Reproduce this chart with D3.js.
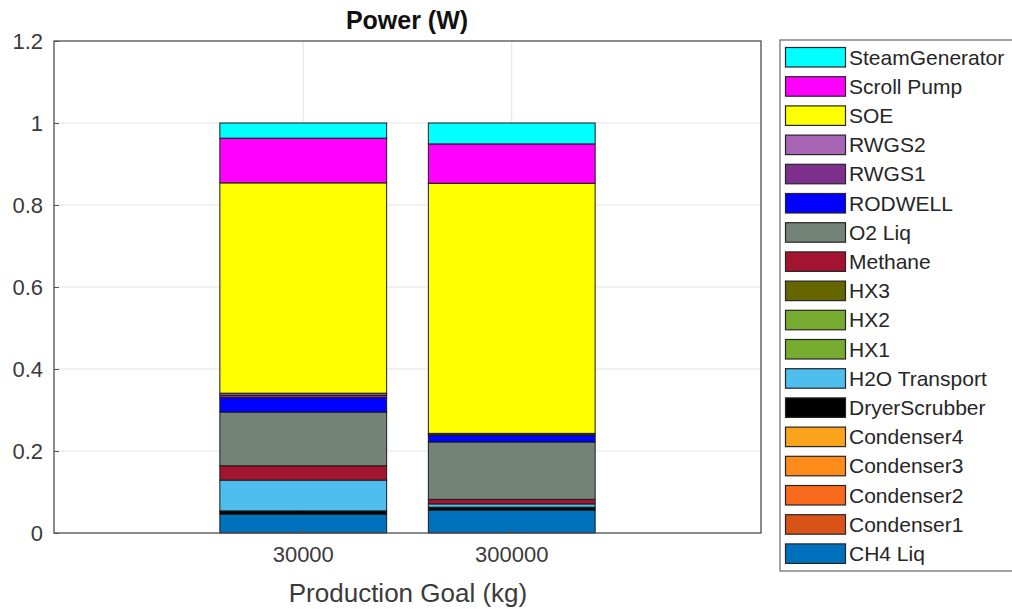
<!DOCTYPE html>
<html>
<head>
<meta charset="utf-8">
<script src="https://cdn.jsdelivr.net/npm/d3@7"></script>
<style>
  html, body { margin: 0; padding: 0; background: #fff; }
  svg { display: block; font-family: "Liberation Sans", Arial, Helvetica, sans-serif; }
</style>
</head>
<body>
<svg id="chart" width="1012" height="609"></svg>
<script>
// Production goals on the x axis
const goals = ["30000", "300000"];

// Stack components, bottom to top
const components = [
  "CH4 Liq", "Condenser1", "Condenser2", "Condenser3", "Condenser4",
  "DryerScrubber", "H2O Transport", "HX1", "HX2", "HX3",
  "Methane", "O2 Liq", "RODWELL", "RWGS1", "RWGS2",
  "SOE", "Scroll Pump", "SteamGenerator"
];

// Normalised power share of each component, one value per production goal
const ch4Liq        = [0.046, 0.056];
const condenser1    = [0.000, 0.000];
const condenser2    = [0.000, 0.000];
const condenser3    = [0.000, 0.000];
const condenser4    = [0.000, 0.000];
const dryerScrubber = [0.008, 0.007];
const h2oTransport  = [0.075, 0.008];
const hx1           = [0.000, 0.000];
const hx2           = [0.000, 0.000];
const hx3           = [0.000, 0.000];
const methane       = [0.035, 0.011];
const o2Liq         = [0.131, 0.140];
const rodwell       = [0.035, 0.016];
const rwgs1         = [0.006, 0.003];
const rwgs2         = [0.005, 0.002];
const soe           = [0.513, 0.610];
const scrollPump    = [0.109, 0.096];
const steamGen      = [0.037, 0.051];

const seriesValues = [
  ch4Liq, condenser1, condenser2, condenser3, condenser4,
  dryerScrubber, h2oTransport, hx1, hx2, hx3,
  methane, o2Liq, rodwell, rwgs1, rwgs2,
  soe, scrollPump, steamGen
];

const componentColors = [
  "#0072BD", "#D95319", "#FA6A1C", "#FF8C1A", "#F9A41B",
  "#000000", "#4DBEEE", "#77AC30", "#77AC30", "#666600",
  "#A2142F", "#738378", "#0000FF", "#7E2F8E", "#A865B5",
  "#FFFF00", "#FF00FF", "#00FFFF"
];

const yTicks = [0, 0.2, 0.4, 0.6, 0.8, 1, 1.2];

// Table for d3.stack: one row per production goal
const rows = goals.map((g, i) => {
  const r = { goal: g };
  components.forEach((c, j) => { r[c] = seriesValues[j][i]; });
  return r;
});

const svg = d3.select("#chart");
const plot = { left: 54, right: 761, top: 41, bottom: 533 };
const fontFamily = "'Liberation Sans', Arial, sans-serif";

const x = d3.scaleBand()
  .domain(goals)
  .range([plot.left, plot.right])
  .paddingInner(0.2)
  .paddingOuter(0.7955);

const y = d3.scaleLinear()
  .domain([0, 1.2])
  .range([plot.bottom, plot.top]);

const color = d3.scaleOrdinal().domain(components).range(componentColors);

// Grid lines
const grid = svg.append("g");
grid.selectAll("line.hg")
  .data(yTicks.filter(t => t > 0 && t < 1.2))
  .join("line")
  .attr("x1", plot.left).attr("x2", plot.right)
  .attr("y1", d => y(d)).attr("y2", d => y(d))
  .attr("stroke", "#e3e3e3").attr("stroke-width", 1);
grid.selectAll("line.vg")
  .data(goals)
  .join("line")
  .attr("x1", d => x(d) + x.bandwidth() / 2).attr("x2", d => x(d) + x.bandwidth() / 2)
  .attr("y1", plot.top).attr("y2", plot.bottom)
  .attr("stroke", "#e3e3e3").attr("stroke-width", 1);

// Stacked bars
const stacked = d3.stack().keys(components)(rows);
svg.append("g")
  .selectAll("g")
  .data(stacked)
  .join("g")
  .attr("fill", d => color(d.key))
  .selectAll("rect")
  .data(d => d)
  .join("rect")
  .attr("x", d => x(d.data.goal))
  .attr("width", x.bandwidth())
  .attr("y", d => y(d[1]))
  .attr("height", d => y(d[0]) - y(d[1]))
  .attr("stroke", "#1a1a1a")
  .attr("stroke-width", 1);

// Axes
const yAxis = d3.axisLeft(y)
  .tickValues(yTicks)
  .tickFormat(d => d3.format("~g")(d))
  .tickSizeInner(-5)
  .tickSizeOuter(0)
  .tickPadding(11);
const gy = svg.append("g")
  .attr("transform", `translate(${plot.left},0)`)
  .call(yAxis);
gy.select(".domain").remove();
gy.selectAll(".tick line").attr("stroke", "#555");
gy.selectAll(".tick text")
  .attr("fill", "#3a3a3a")
  .attr("font-family", fontFamily)
  .style("font-size", "22px");

const xAxis = d3.axisBottom(x)
  .tickSizeInner(-5)
  .tickSizeOuter(0)
  .tickPadding(13);
const gx = svg.append("g")
  .attr("transform", `translate(0,${plot.bottom})`)
  .call(xAxis);
gx.select(".domain").remove();
gx.selectAll(".tick line").attr("stroke", "#555");
gx.selectAll(".tick text")
  .attr("fill", "#3a3a3a")
  .attr("font-family", fontFamily)
  .style("font-size", "22px");

// Axes box
svg.append("rect")
  .attr("x", plot.left).attr("y", plot.top)
  .attr("width", plot.right - plot.left)
  .attr("height", plot.bottom - plot.top)
  .attr("fill", "none")
  .attr("stroke", "#4d4d4d")
  .attr("stroke-width", 1.3);

// Title and axis label
svg.append("text")
  .attr("x", 407)
  .attr("y", 29)
  .attr("text-anchor", "middle")
  .attr("font-weight", "bold")
  .style("font-size", "25px")
  .attr("fill", "#111")
  .text("Power (W)");

svg.append("text")
  .attr("x", 408)
  .attr("y", 602)
  .attr("text-anchor", "middle")
  .style("font-size", "26px")
  .attr("fill", "#3a3a3a")
  .text("Production Goal (kg)");

// Legend, top entry is the top of the stack
const legend = { x: 780, y: 40, w: 260, h: 531, rowH: 29.2, first: 57 };
svg.append("rect")
  .attr("x", legend.x).attr("y", legend.y)
  .attr("width", legend.w).attr("height", legend.h)
  .attr("fill", "#fff")
  .attr("stroke", "#666")
  .attr("stroke-width", 1.2);

const legendItems = components.slice().reverse();
const li = svg.append("g")
  .selectAll("g")
  .data(legendItems)
  .join("g")
  .attr("transform", (d, i) => `translate(0,${legend.first + i * legend.rowH})`);
li.append("rect")
  .attr("x", 785.5).attr("y", -9.5)
  .attr("width", 60).attr("height", 19.5)
  .attr("fill", d => color(d))
  .attr("stroke", "#262626")
  .attr("stroke-width", 1.2);
li.append("text")
  .attr("x", 849)
  .attr("y", 0)
  .attr("dy", "0.36em")
  .style("font-size", "21px")
  .attr("fill", "#262626")
  .text(d => d);
</script>
</body>
</html>
